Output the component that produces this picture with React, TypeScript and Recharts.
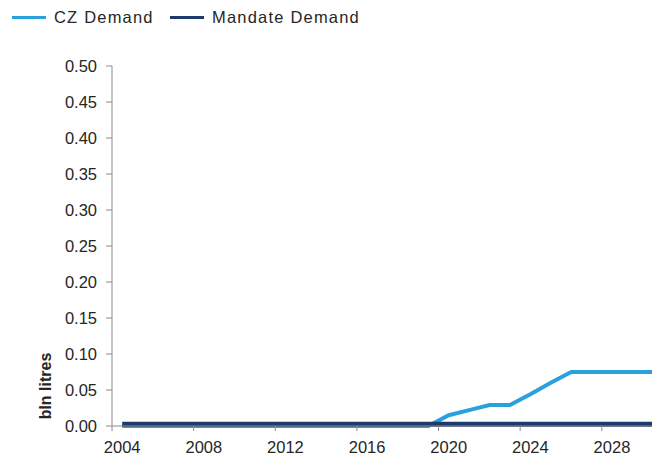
import { LineChart, Line, XAxis, YAxis, Label } from "recharts";

// one point per year, plotted at the middle of each year's slot
const YEARS = [
  2004, 2005, 2006, 2007, 2008, 2009, 2010, 2011, 2012, 2013, 2014, 2015, 2016, 2017,
  2018, 2019, 2020, 2021, 2022, 2023, 2024, 2025, 2026, 2027, 2028, 2029, 2030,
];
const CZ_DEMAND = [
  0, 0, 0, 0, 0, 0, 0, 0, 0, 0, 0, 0, 0, 0, 0, 0,
  0.015, 0.022, 0.029, 0.029, 0.044, 0.06, 0.075, 0.075, 0.075, 0.075, 0.075,
];
const MANDATE_DEMAND = [
  0.0025, 0.0025, 0.0025, 0.0025, 0.0025, 0.0025, 0.0025, 0.0025, 0.0025, 0.0025,
  0.0025, 0.0025, 0.0025, 0.0025, 0.0025, 0.0025, 0.0025, 0.0025, 0.0025, 0.0025,
  0.0025, 0.0025, 0.0025, 0.0025, 0.0025, 0.0025, 0.0025,
];
const X_TICKS = [2004, 2008, 2012, 2016, 2020, 2024, 2028];
const Y_TICKS = [0, 0.05, 0.1, 0.15, 0.2, 0.25, 0.3, 0.35, 0.4, 0.45, 0.5];

const CZ_COLOR = "#2aa0dc";
const MANDATE_COLOR = "#1d3a6b";
const AXIS_COLOR = "#8c8c8c";
const TEXT_COLOR = "#262626";
const FONT = "'Liberation Sans', Arial, Helvetica, sans-serif";

const CHART_W = 660;
const CHART_H = 447;
const MARGIN = { top: 58, right: 5, bottom: 0, left: 0 };
const Y_AXIS_W = 104;
const X_AXIS_H = 29;
// width of one year on the x axis, used to centre the year labels in their slot
const YEAR_W = (CHART_W - MARGIN.left - MARGIN.right - Y_AXIS_W) / YEARS.length;

const data = YEARS.map((y, i) => ({
  x: y + 0.5,
  cz: CZ_DEMAND[i],
  mandate: MANDATE_DEMAND[i],
}));

function YearTick(props: any) {
  const { x, y, payload } = props;
  return (
    <text
      x={x + YEAR_W / 2}
      y={y}
      dy="0.71em"
      textAnchor="middle"
      fill={TEXT_COLOR}
      fontSize={16.5}
      fontFamily={FONT}
    >
      {payload.value}
    </text>
  );
}

function UnitLabel() {
  const cx = 37;
  const cy = 378;
  return (
    <text
      x={cx}
      y={cy}
      transform={`rotate(-90, ${cx}, ${cy})`}
      textAnchor="middle"
      dominantBaseline="central"
      fill={TEXT_COLOR}
      fontSize={16}
      fontWeight="bold"
      fontFamily={FONT}
    >
      bln litres
    </text>
  );
}

const legendItems = [
  { label: "CZ Demand", color: CZ_COLOR, left: 4 },
  { label: "Mandate Demand", color: MANDATE_COLOR, left: 162 },
];

export default function App() {
  return (
    <div style={{ position: "relative", width: 652, height: 447, overflow: "hidden", fontFamily: FONT }}>
      {legendItems.map((item) => (
        <div
          key={item.label}
          style={{ position: "absolute", top: 0, left: item.left, height: 18, display: "flex", alignItems: "center" }}
        >
          <span style={{ display: "inline-block", width: 34, height: 3, background: item.color, marginRight: 8 }} />
          <span style={{ fontSize: 16.5, letterSpacing: 1.2, color: TEXT_COLOR, lineHeight: "18px", whiteSpace: "nowrap" }}>
            {item.label}
          </span>
        </div>
      ))}
      <div style={{ position: "absolute", top: 0, left: 0 }}>
        <LineChart width={CHART_W} height={CHART_H} data={data} margin={MARGIN}>
          <XAxis
            dataKey="x"
            type="number"
            domain={[2004, 2031]}
            ticks={X_TICKS}
            interval={0}
            height={X_AXIS_H}
            tick={<YearTick />}
            tickSize={5}
            tickMargin={10}
            axisLine={{ stroke: AXIS_COLOR }}
            tickLine={{ stroke: AXIS_COLOR }}
            allowDataOverflow
          />
          <YAxis
            type="number"
            domain={[0, 0.5]}
            ticks={Y_TICKS}
            interval={0}
            width={Y_AXIS_W}
            tickFormatter={(v: number) => v.toFixed(2)}
            tick={{ fill: TEXT_COLOR, fontSize: 16.5, fontFamily: FONT }}
            tickSize={6}
            tickMargin={9}
            axisLine={{ stroke: AXIS_COLOR }}
            tickLine={{ stroke: AXIS_COLOR }}
          >
            <Label content={<UnitLabel />} />
          </YAxis>
          <Line
            dataKey="cz"
            stroke={CZ_COLOR}
            strokeWidth={4}
            dot={false}
            type="linear"
            isAnimationActive={false}
          />
          <Line
            dataKey="mandate"
            stroke={MANDATE_COLOR}
            strokeWidth={5}
            dot={false}
            type="linear"
            isAnimationActive={false}
          />
        </LineChart>
      </div>
    </div>
  );
}
